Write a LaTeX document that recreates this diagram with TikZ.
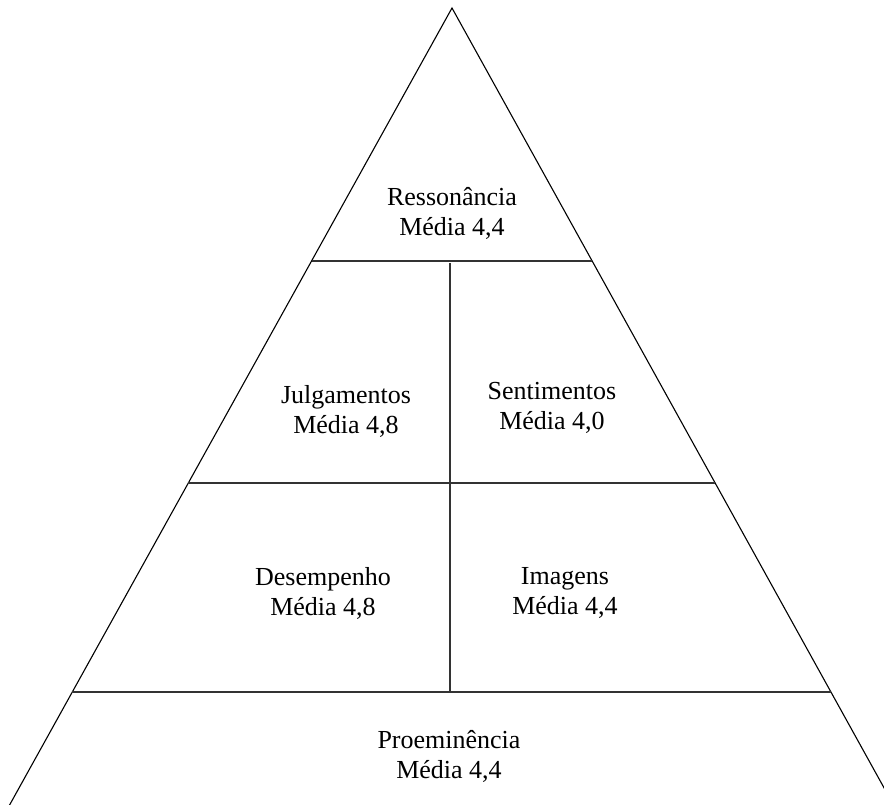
\documentclass[tikz,border=0pt]{standalone}
\usepackage{fontspec}
\setmainfont{Liberation Serif}
\begin{document}
\begin{tikzpicture}[x=1pt,y=-1pt,
  side/.style={line width=1.1pt,black},
  divider/.style={line width=1.1pt,black!80},
  label/.style={align=center,inner sep=0pt,font=\fontsize{26}{30}\selectfont}]
\useasboundingbox (0,0) rectangle (884,805);
\clip (0,0) rectangle (884,805);
% triangle sides
\coordinate (apex) at (452,8);
\coordinate (bl) at (6.8,810);
\coordinate (br) at (896.3,810);
\draw[side] (bl) -- (apex) -- (br);
% horizontal dividers
\coordinate (h1l) at (311.5,261);
\coordinate (h1r) at (592.2,261);
\coordinate (h2l) at (188.2,483);
\coordinate (h2r) at (715.2,483);
\coordinate (h3l) at (72.2,692);
\coordinate (h3r) at (830.9,692);
\draw[divider] (h1l) -- (h1r);
\draw[divider] (h2l) -- (h2r);
\draw[divider] (h3l) -- (h3r);
% vertical divider
\coordinate (vt) at (450,263);
\coordinate (vb) at (450,692);
\draw[divider] (vt) -- (vb);
% labels
\node[label] (res) at (452,213) {Ressonância\\Média 4,4};
\node[label] (jul) at (346,411) {Julgamentos\\Média 4,8};
\node[label] (sen) at (552,408) {Sentimentos\\Média 4,0};
\node[label] (des) at (323,593) {Desempenho\\Média 4,8};
\node[label] (ima) at (565,593) {Imagens\\Média 4,4};
\node[label] (pro) at (449,756) {Proeminência\\Média 4,4};
\end{tikzpicture}
\end{document}
